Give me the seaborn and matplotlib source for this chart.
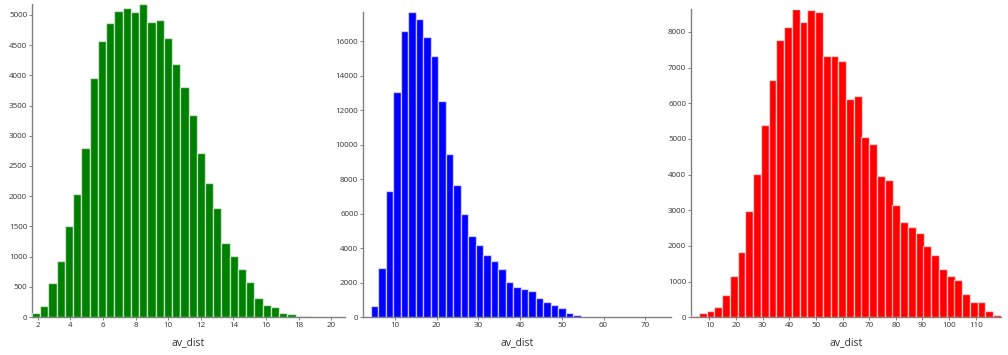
import numpy as np
import pandas as pd
import matplotlib
matplotlib.use("Agg")
import matplotlib.pyplot as plt
import seaborn as sns

# ---- data ----
green_range = (1.65, 20.84)
green_counts = [60, 176, 570, 920, 1510, 2040, 2800, 3950, 4570, 4860, 5060, 5110,
                5050, 5180, 4880, 4910, 4620, 4180, 3800, 3350, 2710, 2210, 1810,
                1230, 1010, 790, 579, 320, 193, 168, 66, 44, 15, 10, 6, 4, 3, 2]
green_xticks = [2, 4, 6, 8, 10, 12, 14, 16, 18, 20]
green_yticks = [0, 500, 1000, 1500, 2000, 2500, 3000, 3500, 4000, 4500, 5000]

blue_range = (2.37, 76.17)
blue_counts = [30, 627, 2863, 7330, 13050, 16610, 17700, 17300, 16270, 15170, 12520,
               9460, 7690, 6015, 4700, 4220, 3640, 3270, 2790, 2060, 1770, 1620,
               1520, 1135, 885, 711, 538, 230, 110, 25, 15, 10, 8, 5, 4, 3, 2, 0,
               0, 0, 1]
blue_xticks = [10, 20, 30, 40, 50, 60, 70]
blue_yticks = [0, 2000, 4000, 6000, 8000, 10000, 12000, 14000, 16000]

red_range = (3.08, 119.5)
red_counts = [29, 115, 163, 279, 615, 1154, 1822, 2990, 4026, 5390, 6650, 7783, 8147,
              8630, 8279, 8605, 8551, 7340, 7340, 7178, 6115, 6195, 5055, 4858, 3970,
              3860, 3150, 2682, 2523, 2355, 2000, 1757, 1355, 1159, 1047, 645, 421,
              439, 187, 56]
red_xticks = [10, 20, 30, 40, 50, 60, 70, 80, 90, 100, 110]
red_yticks = [0, 1000, 2000, 3000, 4000, 5000, 6000, 7000, 8000]

xlabel = "av_dist"

panels = [
    (green_range, green_counts, green_xticks, green_yticks, "#008000",
     [32, 4, 345, 317]),
    (blue_range, blue_counts, blue_xticks, blue_yticks, "#0000ff",
     [363, 12, 671, 317.3]),
    (red_range, red_counts, red_xticks, red_yticks, "#ff0000",
     [691, 9.5, 1001, 317.3]),
]

sns.set_style("ticks")
plt.rcParams['font.family'] = ['Open Sans', 'DejaVu Sans']

W, H = 1008, 355
fig = plt.figure(figsize=(W / 100, H / 100), dpi=100)

for rng, counts, xt, yt, color, box in panels:
    x0, ytop, x1, ybot = box
    ax = fig.add_axes([x0 / W, (H - ybot) / H, (x1 - x0) / W, (ybot - ytop) / H])
    n = len(counts)
    edges = np.linspace(rng[0], rng[1], n + 1)
    centers = (edges[:-1] + edges[1:]) / 2
    df = pd.DataFrame({"av_dist": centers, "count": counts})
    sns.histplot(data=df, x="av_dist", weights="count", bins=[float(e) for e in edges],
                 ax=ax, color=color, stat="count")
    for p in ax.patches:
        p.set_alpha(None)
        p.set_facecolor(color)
        p.set_edgecolor((1, 1, 1, 0.6))
        p.set_linewidth(1.0)
        p.set_zorder(3)
    ax.set_xlim(rng[0], rng[1])
    ax.set_ylim(0, max(counts))
    ax.set_xticks(xt)
    ax.set_yticks(yt)
    ax.set_xticklabels([str(v) for v in xt])
    ax.set_yticklabels([str(v) for v in yt])
    ax.set_ylabel("")
    ax.set_xlabel(xlabel, fontsize=7.5, color="#333333", labelpad=6)
    sns.despine(ax=ax)
    for s in ("left", "bottom"):
        ax.spines[s].set_color("#808080")
        ax.spines[s].set_linewidth(1.0)
    ax.tick_params(axis="both", labelsize=5.8, colors="#808080", labelcolor="#333333",
                   length=2, width=0.7, pad=1.5)

fig.savefig("out.png", dpi=100)
